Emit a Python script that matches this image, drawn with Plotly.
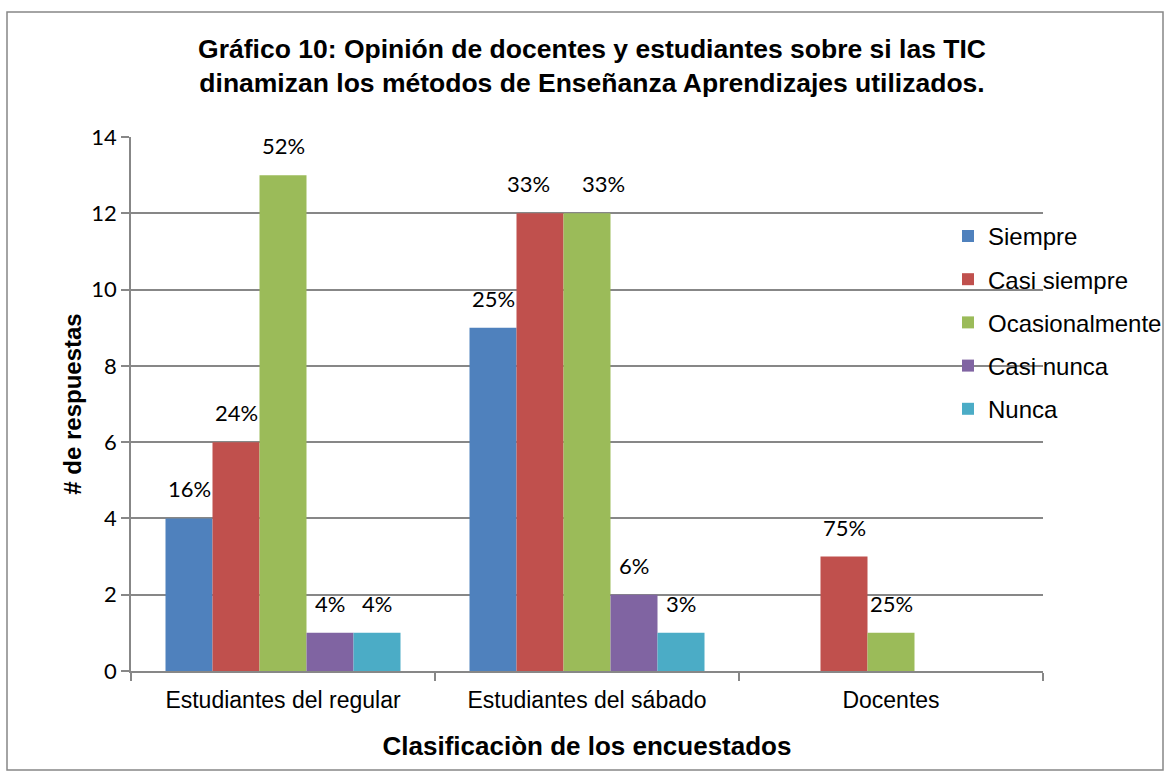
import plotly.graph_objects as go

categories = ["Estudiantes del regular", "Estudiantes del sábado", "Docentes"]
series_names = ["Siempre", "Casi siempre", "Ocasionalmente", "Casi nunca", "Nunca"]
siempre = [4, 9, None]
casi_siempre = [6, 12, 3]
ocasionalmente = [13, 12, 1]
casi_nunca = [1, 2, None]
nunca = [1, 1, None]
pct_siempre = ["16%", "25%", ""]
pct_casi_siempre = ["24%", "33%", "75%"]
pct_ocasionalmente = ["52%", "33%", "25%"]
pct_casi_nunca = ["4%", "6%", ""]
pct_nunca = ["4%", "3%", ""]
y_ticks = [0, 2, 4, 6, 8, 10, 12, 14]

colors = ["#4F81BD", "#C0504D", "#9BBB59", "#8064A2", "#4BACC6"]
values = [siempre, casi_siempre, ocasionalmente, casi_nunca, nunca]
labels = [pct_siempre, pct_casi_siempre, pct_ocasionalmente, pct_casi_nunca, pct_nunca]

BARGAP = 0.227
n = len(series_names)
bar_w = (1 - BARGAP) / n

fig = go.Figure()
for i, (name, vals, col) in enumerate(zip(series_names, values, colors)):
    fig.add_trace(go.Bar(
        x=categories, y=vals, name=name,
        marker=dict(color=col, line=dict(width=0)),
        legendgroup=f"g{i}",
    ))


def collides(a, b):
    # two wide labels on equal-height neighbouring bars would touch
    return bool(a) and bool(b) and len(a) >= 3 and len(b) >= 3


# data labels over each bar, positioned through the category axis scale
for i, (vals, txt) in enumerate(zip(values, labels)):
    for j, (v, t) in enumerate(zip(vals, txt)):
        if v is None or not t:
            continue
        xshift = 0
        if i > 0 and values[i - 1][j] == v and collides(labels[i - 1][j], t):
            xshift = 16
        elif i < n - 1 and values[i + 1][j] == v and collides(labels[i + 1][j], t):
            xshift = -12
        fig.add_annotation(
            x=j + (i - (n - 1) / 2) * bar_w, y=v, xref="x", yref="y",
            text=t, showarrow=False, yanchor="bottom", xanchor="center",
            yshift=14, xshift=xshift,
            font=dict(family="Lato", size=22, color="black"),
        )

fig.update_layout(
    width=1170, height=773, autosize=False,
    barmode="group", bargap=BARGAP, bargroupgap=0,
    paper_bgcolor="white", plot_bgcolor="white",
    margin=dict(l=131, r=127, t=137, b=102, autoexpand=False),
    title=dict(
        text="Gráfico 10: Opinión de docentes y estudiantes sobre si las TIC<br>dinamizan los métodos de Enseñanza Aprendizajes utilizados.",
        x=0.506, xanchor="center", y=0.9256, yanchor="middle",
        font=dict(family="Liberation Sans", size=26.5, color="black", weight="bold"),
    ),
    legend=dict(
        x=(948 - 131) / 912, xanchor="left", y=0.856, yanchor="top",
        font=dict(family="Liberation Sans", size=24, color="black"),
        bgcolor="rgba(0,0,0,0)", traceorder="grouped", tracegroupgap=9,
        itemwidth=30,
    ),
    showlegend=True,
)
fig.update_xaxes(
    showline=True, linecolor="#878787", linewidth=1.5,
    ticks="outside", tickson="boundaries", ticklen=8, tickcolor="#878787", tickwidth=1.5,
    ticklabelstandoff=8,
    tickfont=dict(family="Liberation Sans", size=23, color="black"),
    title=dict(text="Clasificaciòn de los encuestados", standoff=24,
               font=dict(family="Liberation Sans", size=26, color="black", weight="bold")),
)
fig.update_yaxes(
    range=[0, 14], tickvals=y_ticks,
    showline=True, linecolor="#878787", linewidth=1.5,
    ticks="outside", ticklen=8, tickcolor="#878787", tickwidth=1.5,
    showgrid=True, gridcolor="#878787", gridwidth=1.5,
    zeroline=False,
    tickfont=dict(family="Lato", size=22, color="black"),
    title=dict(text="# de respuestas", standoff=3,
               font=dict(family="Liberation Sans", size=24, color="black", weight="bold")),
)
fig.add_shape(type="rect", xref="paper", yref="paper",
              x0=(7 - 131) / 912, x1=(1163 - 131) / 912,
              y0=-(770 - 671) / 534, y1=1 + (137 - 12) / 534,
              line=dict(color="#878787", width=1.5), layer="below")

fig.write_html(
    "out.html",
    config={"displayModeBar": False, "responsive": False},
    default_width="1170px", default_height="773px",
    post_script="document.body.style.margin='0';",
)
